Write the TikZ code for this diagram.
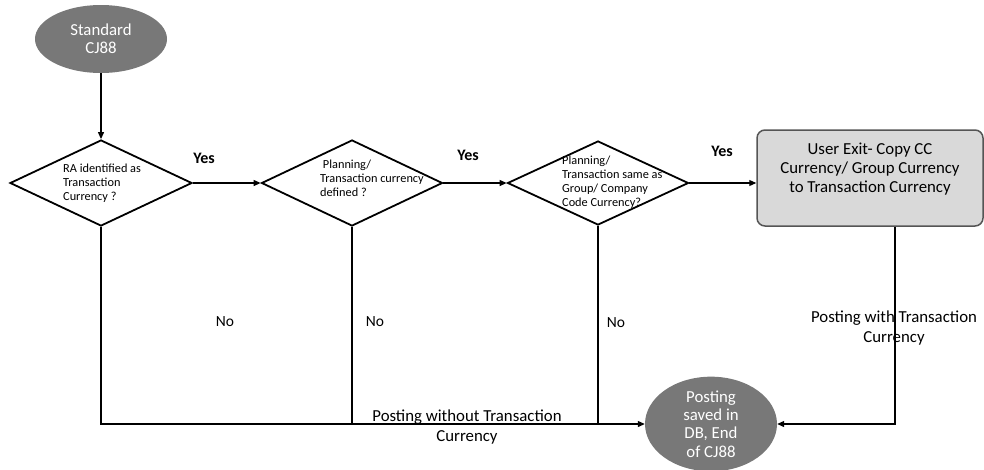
\documentclass[tikz,border=0pt]{standalone}
\usepackage{fontspec}
\setmainfont{Carlito}
\usetikzlibrary{shapes.geometric,arrows.meta}
\definecolor{termgray}{RGB}{120,120,120}
\definecolor{boxgray}{RGB}{217,217,217}
\definecolor{boxline}{RGB}{85,85,85}
\begin{document}
\begin{tikzpicture}[x=1pt,y=-1pt,>={Triangle[length=7pt,width=6pt]},
  term/.style={ellipse, fill=termgray, text=white, minimum width=132pt, inner sep=0pt, align=center, font=\fontsize{16.8}{18.4}\selectfont},
  decision/.style={diamond, draw, line width=1.8pt, minimum width=182pt, minimum height=86pt, inner sep=0pt},
  dtext/.style={anchor=west, align=left, inner sep=0pt, font=\fontsize{12.3}{14}\selectfont},
  exitbox/.style={rectangle, rounded corners=8pt, draw=boxline, line width=1.5pt, fill=boxgray, minimum width=226pt, minimum height=96pt},
  lbl/.style={align=center, inner sep=0pt, font=\fontsize{16.8}{20.5}\selectfont},
  flow/.style={draw, line width=1.1pt}]
\useasboundingbox (0,0) rectangle (984,469);
\node[term, minimum height=68pt] (s) at (101,39) {Standard\\CJ88};
\node[decision] (d1) at (101,183) {};
\node[dtext] (t1) at (63,183) {RA identified as\\Transaction\\Currency ?};
\node[decision, minimum width=181pt] (d2) at (352,183) {};
\node[dtext] (t2) at (320,178) {\ Planning/\\Transaction currency\\defined ?};
\node[decision, minimum width=181pt, minimum height=84pt] (d3) at (598,183) {};
\node[dtext] (t3) at (562,182) {Planning/\\Transaction same as\\Group/ Company\\Code Currency?};
\node[exitbox] (ue) at (870,178) {};
\node[lbl, font=\fontsize{16.8}{18.6}\selectfont] (t4) at (870,169) {User Exit- Copy CC\\Currency/ Group Currency\\to Transaction Currency};
\node[term, minimum height=90pt] (e) at (711,424) {Posting\\saved in\\DB, End\\of CJ88};
% yes / no labels
\node[lbl, font=\bfseries\fontsize{16}{18}\selectfont] (y1) at (204,158) {Yes};
\node[lbl, font=\bfseries\fontsize{16}{18}\selectfont] (y2) at (468,155) {Yes};
\node[lbl, font=\bfseries\fontsize{16}{18}\selectfont] (y3) at (722,151) {Yes};
\node[lbl, font=\fontsize{15.5}{18}\selectfont] (n1) at (225,322) {No};
\node[lbl, font=\fontsize{15.5}{18}\selectfont] (n2) at (375,322) {No};
\node[lbl, font=\fontsize{15.5}{18}\selectfont] (n3) at (616,323) {No};
\path[flow,->] (s) -- (d1);
\path[flow,->] (d1.east) -- (d2.west);
\path[flow,->] (d2.east) -- (d3.west);
\path[flow,->] (d3.east) -- (d3.east -| ue.west);
\path[flow,->] (d1.south) |- (e.west);
\path[flow] (d2.south) -- (d2.south |- e.west);
\path[flow] (d3.south) -- (d3.south |- e.west);
\path[flow,->] ([xshift=25pt]ue.south) |- (e.east);
\node[lbl] (p1) at (467,427) {Posting without Transaction\\Currency};
\node[lbl] (p2) at (894,328) {Posting with Transaction\\Currency};
\end{tikzpicture}
\end{document}
